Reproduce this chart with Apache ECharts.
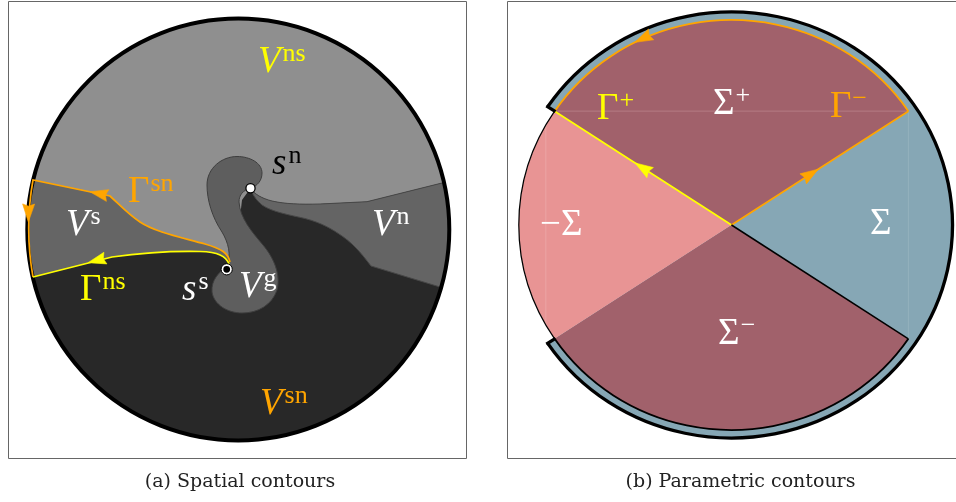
<!DOCTYPE html>
<html>
<head>
<meta charset="utf-8">
<title>Spatial and parametric contours</title>
<script src="https://cdn.jsdelivr.net/npm/echarts@6.0.0/dist/echarts.min.js"></script>
<style>
html,body{margin:0;padding:0;background:#ffffff;}
#chart{width:956px;height:502px;}
</style>
</head>
<body>
<div id="chart"></div>
<script>
// ===================== DATA =====================
const captions = ['(a) Spatial contours', '(b) Parametric contours'];

// ---- (a) spatial domain (coordinates of the spatial plane) ----
const spatialDomain = [238.3, 229.5, 211];               // centre x, centre y, radius
const saddlePoints = [[250.5, 188.3], [226.7, 269.3]];    // s^n, s^s
const regionVsn = [
  ['M',10,277],['L',33,277],['L',112,257],['C',140,253,175,251,200,251.5],['C',218,252,226,256,229,264],
  ['L',238,235],['L',242,200],['L',250.5,188.3],
  ['C',254,194,262,198.5,272,201],['C',285,204,300,204.5,320,204],['L',367,201.7],['L',442,183],['L',466,177],
  ['L',466,458],['L',10,458],['Z']
];
const regionVn = [
  ['M',250.5,188.3],['C',254,194,262,198.5,272,201],['C',285,204,300,204.5,320,204],['L',367,201.7],['L',442,183],['L',466,177],
  ['L',466,294],['L',440,287],['L',371,266],['C',364,257,356,246,343,236.7],['C',332,229,322,223,305,218.5],
  ['C',290,215,272,212,262,205],['C',256,200,252,194,250.5,188.3],['Z']
];
const regionVs = [
  ['M',10,178],['L',33,180],['L',110,196],['C',120,205,128,214,140,222],['C',155,232,180,237,205,244],
  ['C',222,249,228,253,230,262],['L',229,264],['C',226,256,218,252,200,251.5],['C',175,251,140,253,112,257],
  ['L',33,277],['L',10,279],['Z']
];
const regionVg = [
  ['M',250.5,188.3],['C',257,186,262,181,262,173],['C',262,163,250,156.5,237,156.5],['C',222,156.5,207,168,207,185],
  ['C',207,200,212,217,222,232],['C',228,242,232,255,226.7,267],['C',219,272,211,280,212,292],
  ['C',214,305,228,313,242,313],['C',258,313,272,305,277,290],['C',281,275,274,258,263,245],
  ['C',252,232,240,218,239,202],['C',239,195,243,190,250.5,188.3],['Z']
];
const contourGammaSN = [['M',230,262],['C',228,253,222,249,205,244],['C',180,237,155,232,140,222],
  ['C',128,214,120,205,110,196],['L',33,180],['C',27.3,212,27.3,245,33,277]];
const contourGammaNS = [['M',229,264],['C',226,256,218,252,200,251.5],['C',175,251,140,253,112,257],['L',33,277]];
const arrowsGammaSN = [[90, 191.8, 110, 196], [28.3, 222, 28.6, 205]];   // tip x,y, tail x,y
const arrowsGammaNS = [[88, 262.7, 107, 257.7]];
const spatialLabelMain = ['V','V','V','V','V','Γ','Γ','s','s'];
const spatialLabelSup  = ['ns','sn','s','n','g','sn','ns','n','s'];
const spatialLabelAt   = [[258,75],[260,417],[66,238],[372,238],[239,300],[128,205],[80,303],[272,177],[182,303]];

// ---- (b) parameter plane (unit = radius of the Σ± sectors, angles in degrees) ----
const sectorFrom   = [-146.26, 33.74, 146.26, 213.74];   // Σ, Σ+, −Σ, Σ−
const sectorTo     = [146.26, 146.26, 213.74, 326.26];
const sectorRadius = [1.039, 1, 1, 1];
const arcFrom   = [-146.26, 146.26, 33.74, 213.74];
const arcTo     = [146.26, 213.74, 146.26, 326.26];
const arcRadius = [1.039, 1, 1, 1];
const rayAngle = [146.26, 33.74, -33.74, 146.26, 213.74];
const rayFrom  = [0, 0, 0, 0.995, 0.995];
const rayTo    = [1, 1, 1, 1.047, 1.047];
const chordAngles = [146.26, 33.74];
const seamX = [-0.873, 0.8316];
const seamY = [0.555, -0.56];
const paramArrows = [[-0.4537,0.3030,-0.3825,0.2555],[0.4081,0.2725,0.3368,0.2249],[-0.4540,0.8910,-0.3827,0.9273]];
const paramLabelMain = ['Γ','Σ','Γ','Σ','−Σ','Σ'];
const paramLabelSup  = ['+','+','−','','','−'];
const paramLabelAt   = [[-0.632,0.502],[-0.087,0.527],[0.463,0.512],[0.651,-0.059],[-0.900,-0.063],[-0.063,-0.595]];

// ===================== STYLE =====================
const ORANGE = '#ffa500', YELLOW = '#ffff00';
const SERIF = '"Liberation Serif", "Times New Roman", serif';
const MAIN_SIZE = 37, SUP_SIZE = 26, SUP_RAISE = 12;
const regionFill = ['#282828', '#646464', '#656565', '#5e5e5e'];
const regionStroke = [null, '#474747', null, '#3e3e3e'];
const spatialLabelColor = [YELLOW, ORANGE, '#fff', '#fff', '#fff', ORANGE, YELLOW, '#000', '#fff'];
const sectorColor = ['#86a7b5', '#a1616b', '#e89494', '#a1616b'];
const arcStroke = ['#000', '#000', ORANGE, '#000'];
const arcWidth = [3.2, 1.2, 1.8, 1.8];
const rayStroke = [YELLOW, ORANGE, '#000', '#000', '#000'];
const rayWidth = [1.8, 1.8, 1.5, 3.2, 3.2];
const paramArrowColor = [YELLOW, ORANGE, ORANGE];
const paramLabelColor = [YELLOW, '#fff', ORANGE, '#fff', '#fff', '#fff'];
const seamColor = ['rgba(255,255,255,0.16)', 'rgba(255,255,255,0.12)'];
const D = Math.PI / 180;

const measureCtx = document.createElement('canvas').getContext('2d');
function textWidth(str, font) { measureCtx.font = font; return measureCtx.measureText(str).width; }
function toPathData(cmds, api) {
  return cmds.map(function (c) {
    let s = c[0];
    for (let i = 1; i < c.length; i += 2) {
      const p = api.coord([c[i], c[i + 1]]);
      s += ' ' + p[0].toFixed(2) + ' ' + p[1].toFixed(2);
    }
    return s;
  }).join(' ');
}
function polar(a, r) { return [r * Math.cos(a * D), r * Math.sin(a * D)]; }
function labelGroup(px, py, main, sup, italic, color) {
  const mainFont = (italic ? 'italic ' : '') + MAIN_SIZE + 'px ' + SERIF;
  const supFont = SUP_SIZE + 'px ' + SERIF;
  const children = [{ type: 'text', x: px, y: py - 0.34 * MAIN_SIZE,
    style: { text: main, font: mainFont, fill: color, align: 'left', verticalAlign: 'middle' } }];
  if (sup) {
    const w = textWidth(main, mainFont);
    children.push({ type: 'text', x: px + w + (italic ? 2 : 1), y: py - SUP_RAISE - 0.34 * SUP_SIZE,
      style: { text: sup, font: supFont, fill: color, align: 'left', verticalAlign: 'middle' } });
  }
  return { type: 'group', children: children };
}
function arrowShape(tip, tail, color) {
  let dx = tip[0] - tail[0], dy = tip[1] - tail[1];
  const len = Math.sqrt(dx * dx + dy * dy) || 1; dx /= len; dy /= len;
  const L = 18, W = 12;
  const bx = tip[0] - L * dx, by = tip[1] - L * dy;
  const nx = -dy * W / 2, ny = dx * W / 2;
  return { type: 'polygon', shape: { points: [[tip[0], tip[1]], [bx + nx, by + ny], [bx + 0.12 * L * dx, by + 0.12 * L * dy], [bx - nx, by - ny]] },
    style: { fill: color, stroke: color, lineWidth: 0.6 } };
}
function layer(name, grid, data, renderItem, clip) {
  return { type: 'custom', name: name, coordinateSystem: 'cartesian2d', xAxisIndex: grid, yAxisIndex: grid,
    silent: true, animation: false, clip: !!clip, data: data, renderItem: renderItem };
}

// ===================== SERIES =====================
const regions = [regionVsn, regionVn, regionVs, regionVg];
const contours = [contourGammaSN, contourGammaNS];
const spatialArrows = arrowsGammaSN.concat(arrowsGammaNS);
const spatialArrowColor = arrowsGammaSN.map(() => ORANGE).concat(arrowsGammaNS.map(() => YELLOW));

const series = [
  layer('disc', 0, [spatialDomain], function (p, api) {
    const c = api.coord([api.value(0), api.value(1)]);
    return { type: 'circle', shape: { cx: c[0], cy: c[1], r: api.size([api.value(2), 0])[0] }, style: { fill: '#8f8f8f' } };
  }),
  layer('regions', 0, regions.map(r => [r[0][1], r[0][2]]), function (p, api) {
    const s = regionStroke[p.dataIndex];
    return { type: 'path', shape: { pathData: toPathData(regions[p.dataIndex], api) },
      style: { fill: regionFill[p.dataIndex], stroke: s || 'none', lineWidth: s ? 1 : 0 } };
  }, true),
  layer('mask', 0, [spatialDomain], function (p, api) {
    const c = api.coord([api.value(0), api.value(1)]);
    return { type: 'ring', shape: { cx: c[0], cy: c[1], r0: api.size([api.value(2), 0])[0], r: 600 }, style: { fill: '#ffffff' } };
  }, true),
  layer('boundary', 0, [spatialDomain], function (p, api) {
    const c = api.coord([api.value(0), api.value(1)]);
    return { type: 'circle', shape: { cx: c[0], cy: c[1], r: api.size([api.value(2), 0])[0] }, style: { fill: 'none', stroke: '#000', lineWidth: 4 } };
  }),
  layer('contours', 0, contours.map(r => [r[0][1], r[0][2]]), function (p, api) {
    return { type: 'path', shape: { pathData: toPathData(contours[p.dataIndex], api) },
      style: { fill: 'none', stroke: p.dataIndex === 0 ? ORANGE : YELLOW, lineWidth: 1.7 } };
  }),
  layer('contourArrows', 0, spatialArrows, function (p, api) {
    return arrowShape(api.coord([api.value(0), api.value(1)]), api.coord([api.value(2), api.value(3)]), spatialArrowColor[p.dataIndex]);
  }),
  layer('saddles', 0, saddlePoints, function (p, api) {
    const c = api.coord([api.value(0), api.value(1)]);
    if (p.dataIndex === 0) {
      return { type: 'circle', shape: { cx: c[0], cy: c[1], r: 4.6 }, style: { fill: '#fff', stroke: '#000', lineWidth: 1.3 } };
    }
    return { type: 'group', children: [
      { type: 'circle', shape: { cx: c[0], cy: c[1], r: 5.6 }, style: { fill: '#fff', stroke: '#000', lineWidth: 1 } },
      { type: 'circle', shape: { cx: c[0], cy: c[1], r: 3.4 }, style: { fill: '#000' } }
    ] };
  }),
  layer('spatialLabels', 0, spatialLabelAt, function (p, api) {
    const c = api.coord([api.value(0), api.value(1)]);
    const m = spatialLabelMain[p.dataIndex];
    return labelGroup(c[0], c[1], m, spatialLabelSup[p.dataIndex], m !== 'Γ', spatialLabelColor[p.dataIndex]);
  }),

  // ----- (b) -----
  layer('sectors', 1, sectorFrom.map((a, i) => [a, sectorTo[i], sectorRadius[i]]), function (p, api) {
    const c = api.coord([0, 0]);
    const ux = api.size([1, 0])[0], uy = api.size([0, 1])[1];
    return { type: 'group', x: c[0], y: c[1], scaleX: ux / uy, children: [
      { type: 'sector', shape: { cx: 0, cy: 0, r0: 0, r: api.value(2) * uy, startAngle: -api.value(1) * D, endAngle: -api.value(0) * D, clockwise: true },
        style: { fill: sectorColor[p.dataIndex] } } ] };
  }),
  layer('seams', 1, seamX.map(x => [x, seamY[0], x, seamY[1]]), function (p, api) {
    const a = api.coord([api.value(0), api.value(1)]), b = api.coord([api.value(2), api.value(3)]);
    return { type: 'line', shape: { x1: a[0], y1: a[1], x2: b[0], y2: b[1] },
      style: { stroke: seamColor[p.dataIndex], lineWidth: 1 } };
  }),
  layer('chord', 1, [chordAngles], function (p, api) {
    const a = api.coord(polar(api.value(0), 1)), b = api.coord(polar(api.value(1), 1));
    return { type: 'line', shape: { x1: a[0], y1: a[1], x2: b[0], y2: b[1] }, style: { stroke: 'rgba(255,220,220,0.22)', lineWidth: 1 } };
  }),
  layer('arcs', 1, arcFrom.map((a, i) => [a, arcTo[i], arcRadius[i]]), function (p, api) {
    const c = api.coord([0, 0]);
    const ux = api.size([1, 0])[0], uy = api.size([0, 1])[1];
    return { type: 'group', x: c[0], y: c[1], scaleX: ux / uy, children: [
      { type: 'arc', shape: { cx: 0, cy: 0, r: api.value(2) * uy, startAngle: -api.value(1) * D, endAngle: -api.value(0) * D, clockwise: true },
        style: { fill: 'none', stroke: arcStroke[p.dataIndex], lineWidth: arcWidth[p.dataIndex], strokeNoScale: true } } ] };
  }),
  layer('rays', 1, rayAngle.map((a, i) => [a, rayFrom[i], rayTo[i]]), function (p, api) {
    const a = api.coord(polar(api.value(0), api.value(1))), b = api.coord(polar(api.value(0), api.value(2)));
    return { type: 'line', shape: { x1: a[0], y1: a[1], x2: b[0], y2: b[1] },
      style: { stroke: rayStroke[p.dataIndex], lineWidth: rayWidth[p.dataIndex] } };
  }),
  layer('paramArrows', 1, paramArrows, function (p, api) {
    return arrowShape(api.coord([api.value(0), api.value(1)]), api.coord([api.value(2), api.value(3)]), paramArrowColor[p.dataIndex]);
  }),
  layer('paramLabels', 1, paramLabelAt, function (p, api) {
    const c = api.coord([api.value(0), api.value(1)]);
    return labelGroup(c[0], c[1], paramLabelMain[p.dataIndex], paramLabelSup[p.dataIndex], false, paramLabelColor[p.dataIndex]);
  })
];

const chart = echarts.init(document.getElementById('chart'), null, { renderer: 'canvas', width: 956, height: 502 });
chart.setOption({
  animation: false,
  backgroundColor: '#ffffff',
  grid: [
    { left: 8, top: 1, width: 458, height: 458, show: false },
    { left: 507, top: 1, width: 449, height: 458, show: false }
  ],
  xAxis: [
    { type: 'value', gridIndex: 0, min: 8, max: 466, show: false },
    { type: 'value', gridIndex: 1, min: -1.0555, max: 1.0555, show: false }
  ],
  yAxis: [
    { type: 'value', gridIndex: 0, min: 1, max: 459, inverse: true, show: false },
    { type: 'value', gridIndex: 1, min: -1.1415, max: 1.0927, show: false }
  ],
  graphic: { elements: [
    { type: 'rect', z: 100, silent: true, shape: { x: 8.5, y: 1.5, width: 458, height: 457 }, style: { fill: 'none', stroke: '#666', lineWidth: 1 } },
    { type: 'rect', z: 100, silent: true, shape: { x: 507.5, y: 1.5, width: 449, height: 457 }, style: { fill: 'none', stroke: '#666', lineWidth: 1 } },
    { type: 'text', z: 100, silent: true, x: 240, y: 482.5, style: { text: captions[0], font: '19px "DejaVu Serif"', fill: '#222', align: 'center', verticalAlign: 'middle' } },
    { type: 'text', z: 100, silent: true, x: 740.5, y: 482.5, style: { text: captions[1], font: '19px "DejaVu Serif"', fill: '#222', align: 'center', verticalAlign: 'middle' } }
  ] },
  series: series
});
</script>
</body>
</html>
